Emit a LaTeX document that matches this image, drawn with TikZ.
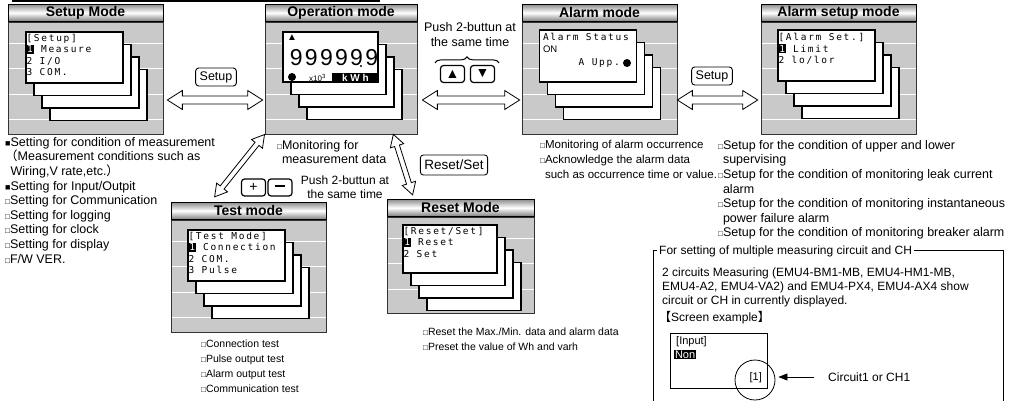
\documentclass[tikz,border=0pt]{standalone}
\usepackage{fontspec}
\setmainfont{Liberation Sans}
\newfontfamily\cjkfont{Noto Sans CJK JP}
\newfontfamily\lcdfont[LetterSpace=18]{DejaVu Sans Mono}
\newfontfamily\digitfont[LetterSpace=10]{Liberation Sans}
\usetikzlibrary{arrows.meta, positioning, calc, shadows, decorations.pathreplacing}
\newcommand{\hlnum}[1]{{\setlength{\fboxsep}{0.7pt}\colorbox{black}{\textcolor{white}{#1}}}}
\newcommand{\wsq}{{\fontsize{8}{8}\selectfont □}}
\newcommand{\bsq}{{\fontsize{9}{9}\selectfont ■}}

\begin{document}
\begin{tikzpicture}[
    x=1pt, y=-1pt,
    panel/.style={draw=black!80, line width=0.7pt, fill=black!21, minimum width=155pt,
                  minimum height=112pt, inner sep=0pt,
                  path picture={\foreach \k in {0,...,3}
                    \draw[white, line width=0.5pt]
                      ([yshift={-21pt-25.5pt*\k}]path picture bounding box.north west) --
                      ([yshift={-21pt-25.5pt*\k}]path picture bounding box.north east);}},
    title/.style={draw=black, line width=0.8pt, top color=black!45, bottom color=black!50,
                  middle color=white, minimum width=155pt, minimum height=17pt, inner sep=0pt,
                  font=\fontsize{14}{14}\selectfont\bfseries},
    screen/.style={draw=black, line width=1.3pt, fill=white, minimum width=97pt,
                   minimum height=51pt, inner sep=0pt,
                   copy shadow={shadow xshift=24pt, shadow yshift=-37.5pt, draw=black, fill=white, line width=1.3pt},
                   copy shadow={shadow xshift=16pt, shadow yshift=-25pt, draw=black, fill=white, line width=1.3pt},
                   copy shadow={shadow xshift=8pt, shadow yshift=-12.5pt, draw=black, fill=white, line width=1.3pt}},
    lcd/.style={anchor=north west, inner sep=0pt, align=left,
                font=\lcdfont\fontsize{9.5}{11.2}\selectfont},
    desc/.style={anchor=north west, inner sep=0pt, align=left,
                 font=\fontsize{12.5}{14.6}\selectfont},
    key/.style={draw=black, line width=0.9pt, rounded corners=3pt, inner xsep=4pt,
                inner ysep=0pt, minimum height=18pt, font=\fontsize{12.5}{13}\selectfont},
    btn/.style={draw=black, line width=1.2pt, rounded corners=3pt, minimum width=24pt,
                minimum height=17pt, inner sep=0pt, font=\fontsize{14}{14}\selectfont},
    tip/.style={shift={(\p1)}, rotate=\n1},
    hollow/.style n args={3}{draw=black, line width=0.8pt, fill=white, line join=miter,
        to path={let \p1=(\tikztostart), \p2=(\tikztotarget),
                     \n1={atan2(\y2-\y1,\x2-\x1)}, \n2={veclen(\x2-\x1,\y2-\y1)} in
                 ([tip]0pt,0pt) -- ([tip]#1,#2) -- ([tip]#1,#3) -- ([tip]{\n2*1pt-#1},#3)
                 -- ([tip]{\n2*1pt-#1},#2) -- ([tip]{\n2*1pt},0pt) -- ([tip]{\n2*1pt-#1},-#2)
                 -- ([tip]{\n2*1pt-#1},-#3) -- ([tip]#1,-#3) -- ([tip]#1,-#2) -- cycle}},
]
\useasboundingbox (0,0) rectangle (1011,401);
\draw[line width=1.5pt] (12,1) -- (380,1);

% Top row of modes
\node[panel] (setupP) at (85.5,78) {};
\node[title, above=0pt of setupP] (setupT) {Setup Mode};
\node[panel, minimum width=152pt] (opP) at (341,78) {};
\node[title, minimum width=152pt, above=0pt of opP] (opT) {Operation mode};
\node[panel] (almP) at (599.5,78) {};
\node[title, above=0pt of almP] (almT) {Alarm mode};
\node[panel] (asetP) at (838.5,78) {};
\node[title, above=0pt of asetP] (asetT) {Alarm setup mode};

% Bottom row of modes
\node[panel] (testP) at (248.5,276) {};
\node[title, above=0pt of testP] (testT) {Test mode};
\node[panel, minimum width=147pt, minimum height=96pt] (rstP) at (460.5,265) {};
\node[title, minimum width=147pt, above=0pt of rstP] (rstT) {Reset Mode};

% Screens
\node[screen] (setupS) at (74.5,57.5) {};
\node[lcd] (setupL) at ([shift={(1,3)}]setupS.north west)
  {[Setup]\\\hlnum{1} Measure\\2 I/O\\3 COM.};
\node[screen, minimum width=95pt, minimum height=50pt] (opS) at (330.5,57) {};
\node[inner sep=0pt, font=\fontsize{10}{10}\selectfont] (opUp) at (292,38) {▲};
\node[inner sep=0pt, font=\digitfont\fontsize{23}{23}\selectfont] (opNum) at (334,58) {999999};
\node[fill=black, inner sep=0pt, minimum size=2.4pt, circle] (opPt) at (361,66) {};
\node[fill=black, inner sep=0pt, minimum size=8pt, circle] (opDot) at (292,77) {};
\node[anchor=west, inner sep=0pt, font=\fontsize{8}{8}\selectfont] (opExp) at (309,78) {x10\textsuperscript{3}};
\node[fill=black, text=white, anchor=south east, minimum width=46pt, minimum height=9pt,
      inner sep=0pt, font=\fontsize{10}{10}\selectfont\bfseries] (opUnit) at (opS.south east) {k\ W\ h};
\node[screen, minimum height=52pt] (almS) at (588,56) {};
\node[lcd] (almL) at ([shift={(4,4)}]almS.north west) {Alarm Status\\{\rmfamily ON}};
\node[lcd, anchor=east] (almU) at (620,63) {A Upp.};
\node[fill=black, inner sep=0pt, minimum size=8pt, circle] (almDot) at (627,63) {};
\node[screen] (asetS) at (826.5,55.5) {};
\node[lcd] (asetL) at ([shift={(1,4)}]asetS.north west)
  {[Alarm Set.]\\\hlnum{1} Limit\\2 lo/lor};
\node[screen] (testS) at (236.5,255.5) {};
\node[lcd] (testL) at ([shift={(1,3)}]testS.north west)
  {[Test Mode]\\\hlnum{1} Connection\\2 COM.\\3 Pulse};
\node[screen, minimum width=94pt, minimum height=48pt] (rstS) at (450,249) {};
\node[lcd] (rstL) at ([shift={(1,3)}]rstS.north west)
  {[Reset/Set]\\\hlnum{1} Reset\\2 Set};

% Keys and buttons
\node[key] (setupK1) at (216,77) {Setup};
\node[key] (setupK2) at (712,76) {Setup};
\node[key, font=\fontsize{13.5}{14}\selectfont, minimum height=20pt] (rstK) at (454,165) {Reset/Set};
\node[align=center, font=\fontsize{12.5}{15}\selectfont] (pushA) at (470,35) {Push 2-buttun at\\the same time};
\node[btn] (upBtn) at (452.5,74) {▲};
\node[btn] (dnBtn) at (482.5,74) {▼};
\draw[decorate, decoration={brace, amplitude=6pt}, line width=1pt]
  ([shift={(-5,-2)}]upBtn.north west) -- ([shift={(4,-2)}]dnBtn.north east);
\node[align=center, font=\fontsize{12}{13.5}\selectfont] (pushB) at (345,187) {Push 2-buttun at\\the same time};
\node[btn] (plusBtn) at (253.5,187.5) {+};
\node[btn] (minusBtn) at (280,187.5) {\rule[2.6pt]{10pt}{2.4pt}};

% Hollow double arrows
\draw[hollow={15pt}{9.5pt}{4pt}] ([shift={(4,22)}]setupP.east) to ([shift={(-2,22)}]opP.west);
\draw[hollow={15pt}{9.5pt}{4pt}] ([shift={(5,22)}]opP.east) to ([shift={(-2,22)}]almP.west);
\draw[hollow={15pt}{9.5pt}{4pt}] ([shift={(0,22)}]almP.east) to ([shift={(-3,22)}]asetP.west);
\draw[hollow={12pt}{7pt}{2.5pt}] ([shift={(44,-5)}]testT.north west) to (opP.south west);
\draw[hollow={12pt}{7pt}{2.5pt}] ([shift={(-24,0)}]opP.south east) to ([shift={(26,-4)}]rstT.north west);

% Descriptions
\node[desc] (setupD) at (5,137) {\bsq Setting for condition of measurement\\
  {\cjkfont （}Measurement conditions such as\\
  \phantom{\bsq}Wiring,V rate,etc.{\cjkfont ）}\\
  \bsq Setting for Input/Outpit\\\wsq Setting for Communication\\\wsq Setting for logging\\
  \wsq Setting for clock\\\wsq Setting for display\\\wsq F/W VER.};
\node[desc] (opD) at (277,140) {\wsq Monitoring for\\\phantom{\wsq}measurement data};
\node[desc, font=\fontsize{11.5}{15.2}\selectfont] (almD) at (540,140)
  {\wsq Monitoring of alarm occurrence\\\wsq Acknowledge the alarm data\\
  \phantom{\wsq}such as occurrence time or value.};
\node[desc] (asetD) at (718,140) {\wsq Setup for the condition of upper and lower\\
  \phantom{\wsq}supervising\\\wsq Setup for the condition of monitoring leak current\\
  \phantom{\wsq}alarm\\\wsq Setup for the condition of monitoring instantaneous\\
  \phantom{\wsq}power failure alarm\\\wsq Setup for the condition of monitoring breaker alarm};
\node[desc, font=\fontsize{10.5}{15}\selectfont] (testD) at (201,339.5)
  {\wsq Connection test\\\wsq Pulse output test\\\wsq Alarm output test\\\wsq Communication test};
\node[desc, font=\fontsize{10.5}{14.5}\selectfont] (rstD) at (423,328)
  {\wsq Reset the Max./Min. data and alarm data\\\wsq Preset the value of Wh and varh};

% Multi-circuit note
\draw[line width=0.8pt] (653,401) -- (653,250) -- (1003,250) -- (1003,401);
\node[fill=white, inner sep=2pt, anchor=west, font=\fontsize{12}{13}\selectfont] (noteT) at (657,251)
  {For setting of multiple measuring circuit and CH};
\node[desc, font=\fontsize{12}{14}\selectfont] (noteD) at (662,268)
  {2 circuits Measuring (EMU4-BM1-MB, EMU4-HM1-MB,\\EMU4-A2, EMU4-VA2) and EMU4-PX4, EMU4-AX4 show\\
   circuit or CH in currently displayed.};
\node[desc, font=\fontsize{12}{14}\selectfont] (noteS) at (659,311) {{\cjkfont 【}Screen example{\cjkfont 】}};
\node[draw, line width=0.8pt, minimum width=97pt, minimum height=55pt, inner sep=0pt,
      anchor=north west] (scrEx) at (670,333) {};
\node[anchor=north west, inner sep=0pt, font=\fontsize{11}{12}\selectfont] (scrIn) at (676,336) {[Input]};
\node[anchor=north west, fill=black, text=white, inner sep=0.8pt,
      font=\fontsize{11}{12}\selectfont] (scrNon) at (674,350) {Non};
\node[anchor=east, inner sep=0pt, font=\fontsize{11}{12}\selectfont] (scrOne) at (762,378) {[1]};
\node[circle, draw, line width=0.8pt, minimum size=40pt, inner sep=0pt] (circ) at (755,380) {};
\node[anchor=west, inner sep=0pt, font=\fontsize{12}{13}\selectfont] (circL) at (828,377) {Circuit1 or CH1};
\draw[-{Triangle[length=9pt,width=7pt]}, line width=0.8pt, shorten <=14pt, shorten >=3pt]
  (circL.west) -- (circ.east |- circL.west);
\end{tikzpicture}
\end{document}
